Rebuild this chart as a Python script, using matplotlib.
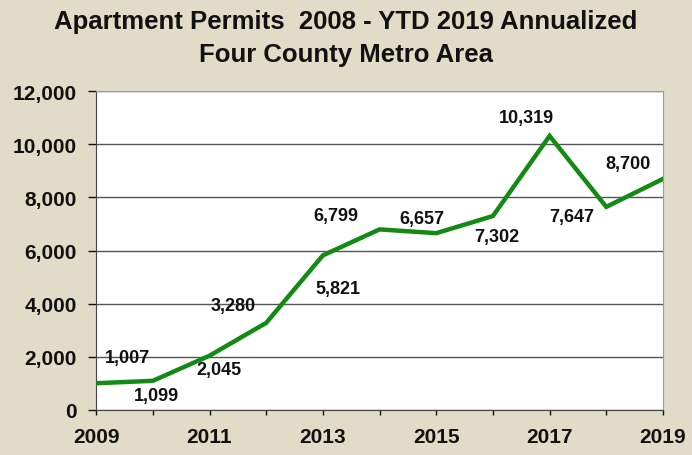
import numpy as np
import matplotlib.pyplot as plt
from matplotlib.ticker import FuncFormatter, MultipleLocator

plt.rcParams.update({
    "font.family": ["Liberation Sans", "DejaVu Sans"],
    "font.weight": "bold",
})

years = [2009, 2010, 2011, 2012, 2013, 2014, 2015, 2016, 2017, 2018, 2019]
permits = [1007, 1099, 2045, 3280, 5821, 6799, 6657, 7302, 10319, 7647, 8700]
# label offsets in pixels (dx, dy) relative to each point
label_off = [(31, 26), (4, -15), (9, -14), (-33, 17), (15, -33), (-44, 14),
             (-14, 15), (4, -20), (-23, 18), (-35, -10), (-35, 15)]

bg = '#e0dcc8'
fig = plt.figure(figsize=(6.92, 4.56), dpi=100, facecolor=bg)
ax = fig.add_axes([0.139, 0.0987, 0.819, 0.699])
ax.set_facecolor('white')

ax.plot(years, permits, color='#138a13', lw=3.2, solid_joinstyle='miter', zorder=3)

for x, y, (dx, dy) in zip(years, permits, label_off):
    ax.annotate(f"{y:,}", (x, y), xytext=(dx, dy), textcoords='offset pixels',
                ha='center', va='center', fontsize=13, fontweight='bold',
                color='#111111', zorder=4)

ax.set_xlim(2009, 2019)
ax.set_ylim(0, 12000)
ax.set_xticks(years)
ax.set_xticklabels([str(y) if y % 2 == 1 else '' for y in years])
ax.yaxis.set_major_locator(MultipleLocator(2000))
ax.yaxis.set_major_formatter(FuncFormatter(lambda v, p: f"{int(v):,}"))
ax.yaxis.grid(True, color='#555555', lw=1)
ax.set_axisbelow(True)

ax.tick_params(axis='both', labelsize=15, colors='#111111', width=1,
               direction='out')
ax.tick_params(axis='y', length=6, pad=8)
ax.tick_params(axis='x', length=3.6, pad=9)
for lbl in ax.get_xticklabels() + ax.get_yticklabels():
    lbl.set_fontweight('bold')

ax.spines['left'].set_color('#444444')
ax.spines['bottom'].set_color('#444444')
ax.spines['top'].set_color('#6fa8dc')
ax.spines['right'].set_color('#6fa8dc')

fig.text(0.5, 0.952, "Apartment Permits  2008 - YTD 2019 Annualized",
         ha='center', va='center', fontsize=18.5, fontweight='bold', color='#111111')
fig.text(0.5, 0.88, "Four County Metro Area",
         ha='center', va='center', fontsize=18.5, fontweight='bold', color='#111111')

plt.savefig('out.png', dpi=100, facecolor=bg)
